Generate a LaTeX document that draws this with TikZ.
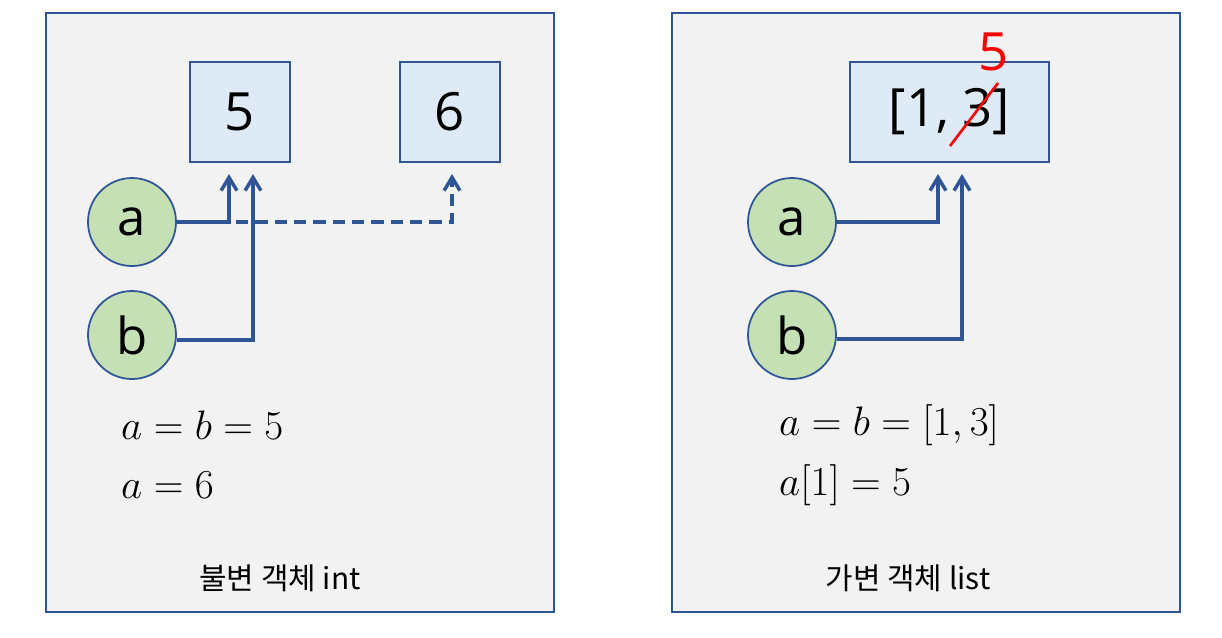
\documentclass[tikz,border=0pt]{standalone}
\usepackage{graphicx}
\usepackage{fontspec}
\setmainfont{Open Sans}
\newfontfamily\kr{Noto Sans CJK KR}
\usetikzlibrary{arrows.meta}
\definecolor{panelfill}{HTML}{F2F2F2}
\definecolor{navy}{HTML}{2F5597}
\definecolor{boxfill}{HTML}{DEEBF7}
\definecolor{circfill}{HTML}{C5E0B4}
\newcommand{\bigmath}[1]{\scalebox{1.13}{$#1$}}
\tikzset{
  panel/.style={draw=navy, line width=1.2pt, fill=panelfill},
  valbox/.style={draw=navy, line width=1.2pt, fill=boxfill, minimum height=100*0.02cm, inner sep=0pt, font=\fontsize{30}{32}\selectfont},
  var/.style={circle, draw=navy, line width=1pt, fill=circfill, minimum size=88*0.02cm, inner sep=0pt, font=\fontsize{29}{31}\selectfont},
  ref/.style={draw=navy, line width=2pt, -{Straight Barb[length=7.5pt,width=9pt,line width=2pt]}},
  mathlbl/.style={anchor=west, font=\fontsize{20.74}{25}\selectfont},
  caption/.style={font=\kr\fontsize{17}{21}\selectfont}
}
\begin{document}
\begin{tikzpicture}[x=0.02cm,y=-0.02cm]
\useasboundingbox (0,0) rectangle (1222,637);
\fill[white] (0,0) rectangle (1222,637);
% panels
\draw[panel] (46,13) rectangle (554,612);
\draw[panel] (672,13) rectangle (1180,612);
% left panel
\node[valbox, minimum width=100*0.02cm] (v5) at (240,112) {5};
\node[valbox, minimum width=100*0.02cm] (v6) at (450,112) {6};
\node[var] (a1) at (132,222) {a};
\node[var] (b1) at (132,335) {b};
\coordinate (ta) at (229,174);
\coordinate (tb) at (253,174);
\coordinate (t6) at (452,174);
\draw[ref] (a1.east) -| (ta);
\draw[ref] (b1.east |- 0,340) -| (tb);
\draw[ref, dashed, dash pattern=on 7pt off 4pt] (236,222) -| (t6);
\node[mathlbl] (m1) at (115,425) {\bigmath{a = b = 5}};
\node[mathlbl] (m2) at (115,485) {\bigmath{a = 6}};
\node[caption] (c1) at (280,578) {불변 객체 int};
% right panel
\node[valbox, minimum width=199*0.02cm] (vl) at (949.5,112) {[1, 3]};
\node[var] (a2) at (792,222) {a};
\node[var] (b2) at (792,335) {b};
\coordinate (ra) at (938,174);
\coordinate (rb) at (962,174);
\draw[ref] (a2.east) -| (ra);
\draw[ref] (b2.east |- 0,339) -| (rb);
\coordinate (s1) at (950,146);
\coordinate (s2) at (998,83);
\draw[red, line width=1.5pt] (s1) -- (s2);
\node[text=red, font=\fontsize{30}{32}\selectfont] (r5) at (994,52) {5};
\node[mathlbl] (m3) at (773,425) {\bigmath{a = b = [1, 3]}};
\node[mathlbl] (m4) at (773,485) {\bigmath{a[1] = 5}};
\node[caption] (c2) at (908,578) {가변 객체 list};
\end{tikzpicture}
\end{document}
